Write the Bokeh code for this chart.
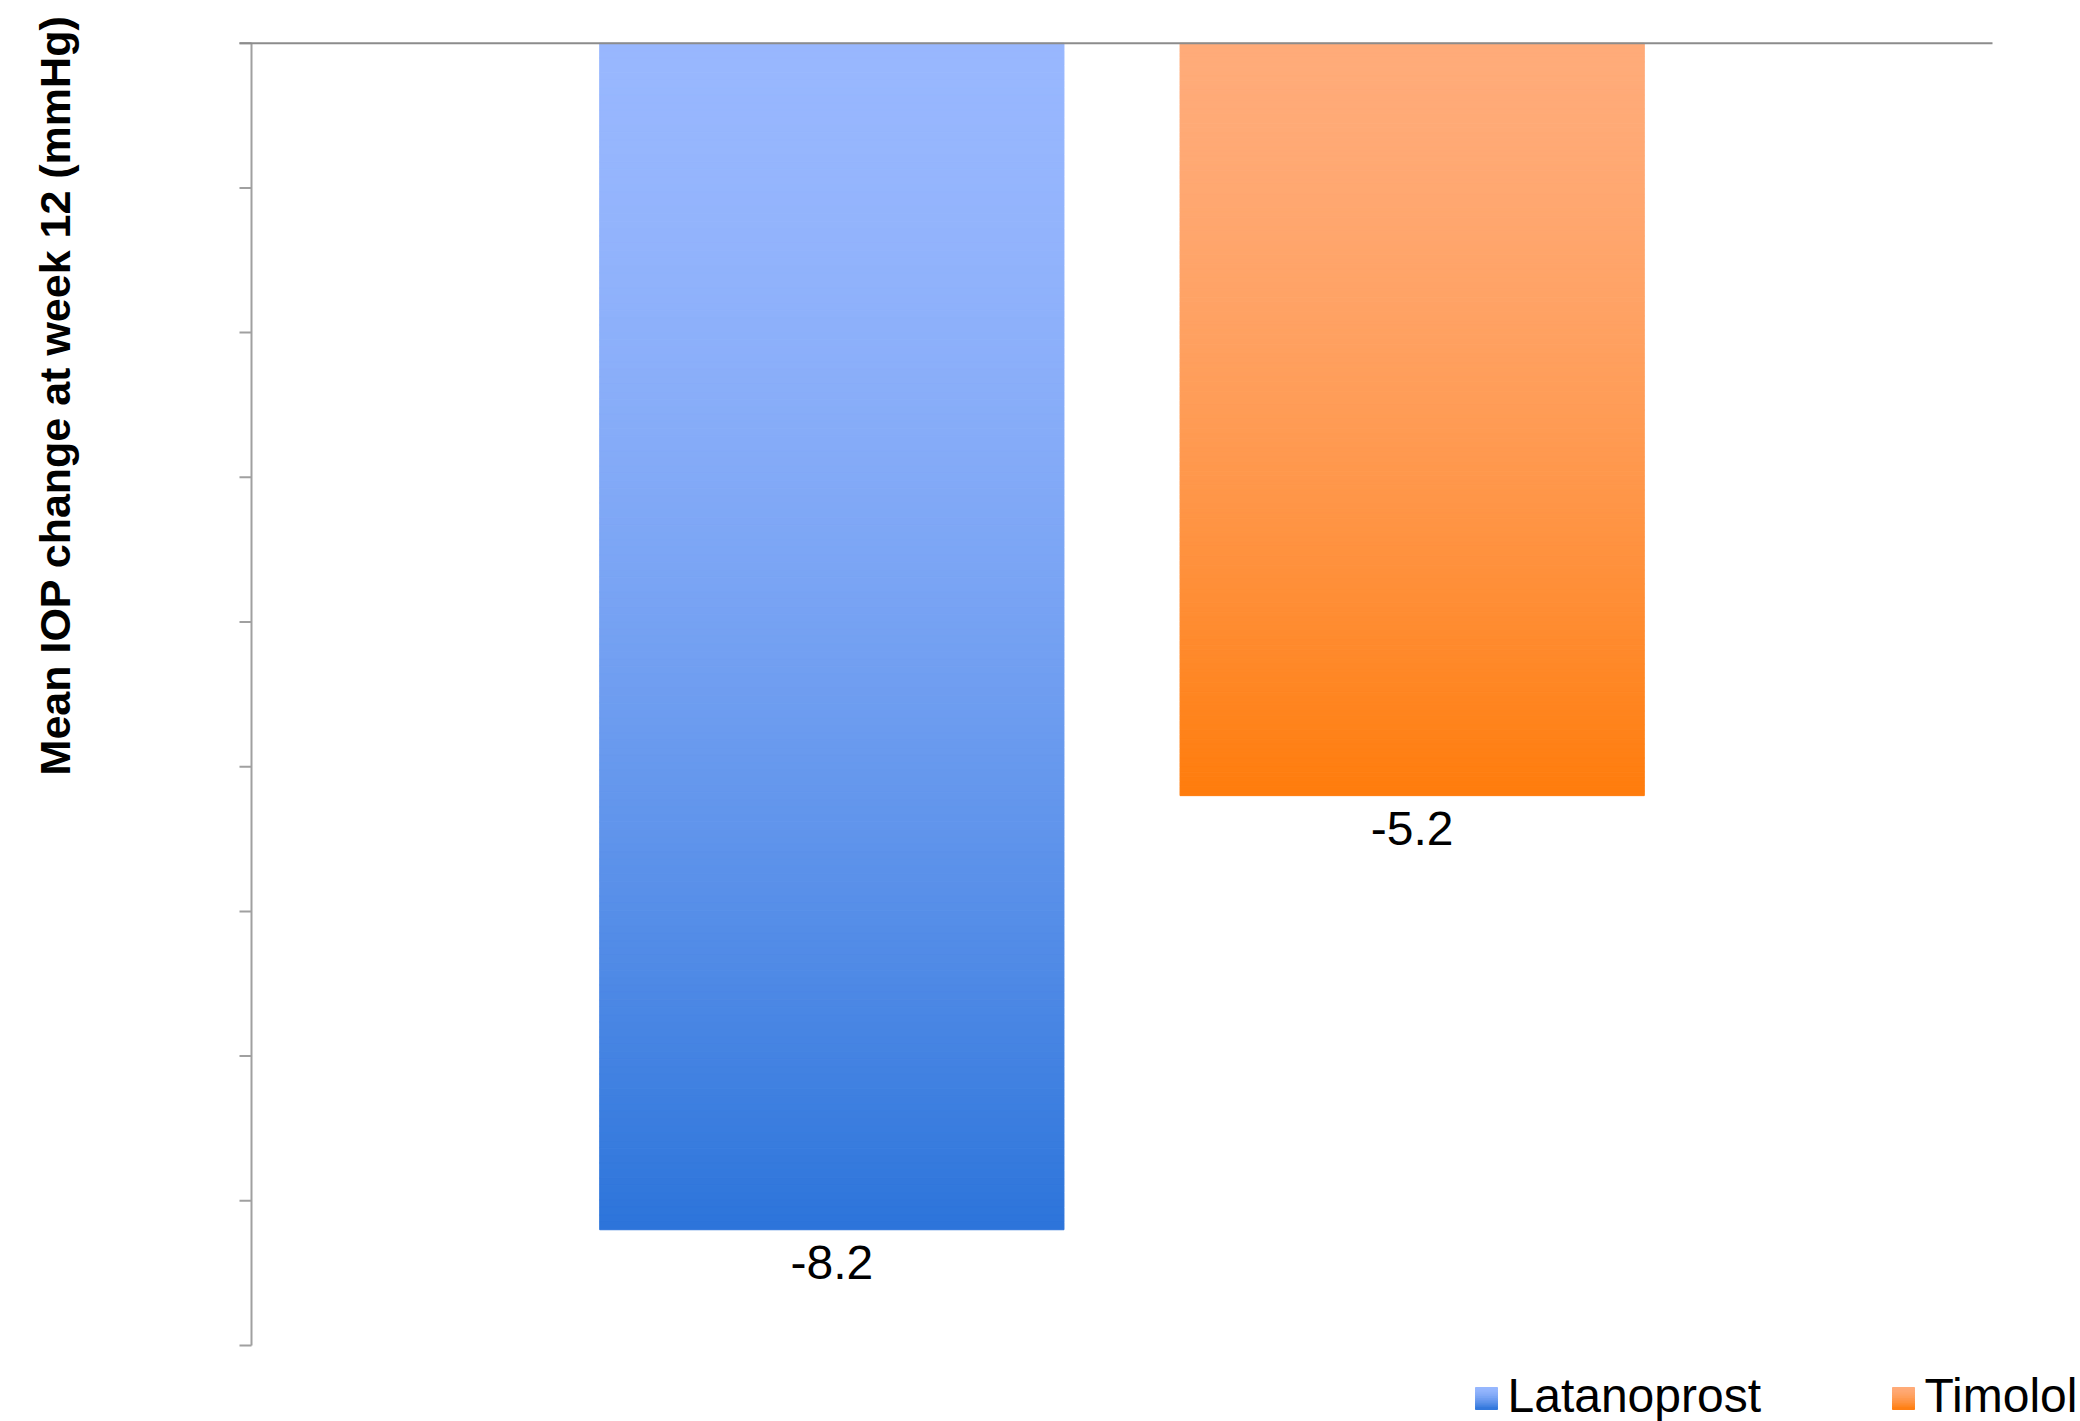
import numpy as np
from bokeh.plotting import figure
from bokeh.models import Range1d, ColumnDataSource
from bokeh.core.properties import value
from bokeh.embed import file_html
from bokeh.resources import INLINE

# ---- data ----
categories = ["Latanoprost", "Timolol"]
values = [-8.2, -5.2]
value_labels = ["-8.2", "-5.2"]
y_ticks = [0, -1, -2, -3, -4, -5, -6, -7, -8, -9]
y_label = "Mean IOP change at week 12 (mmHg)"
top_colors = [(152, 183, 254), (255, 171, 121)]
bottom_colors = [(44, 116, 218), (255, 124, 12)]

FONT = "Liberation Sans"
W, H = 2080, 1421

# layout (pixels) of the plotting area inside the canvas
AX_LEFT, AX_RIGHT, AX_TOP, AX_BOTTOM = 251, 1992, 42.7, 1345
X_MIN, X_MAX = 0.0, 3.0
Y_MIN, Y_MAX = -9.0, 0.0
sx = (AX_RIGHT - AX_LEFT) / (X_MAX - X_MIN)   # px per x unit
sy = (AX_BOTTOM - AX_TOP) / (Y_MAX - Y_MIN)   # px per y unit

def dx(px):
    return X_MIN + (px - AX_LEFT) / sx

def dy(py):
    return Y_MAX - (py - AX_TOP) / sy

p = figure(width=W, height=H, output_backend="svg", toolbar_location=None,
           x_range=Range1d(dx(0), dx(W)), y_range=Range1d(dy(H), dy(0)),
           min_border=0, x_axis_location=None, y_axis_location=None)
p.outline_line_color = None
p.xgrid.visible = False
p.ygrid.visible = False
p.background_fill_color = "white"
p.border_fill_color = "white"

# gradient helper
def gradient_cols(t, b, n, gamma=1.6):
    t = np.array(t, float); b = np.array(b, float)
    f = ((np.arange(n) + 0.5) / n) ** gamma
    return ["#%02x%02x%02x" % tuple(int(round(c)) for c in (t + (b - t) * ff)) for ff in f]

# gradient bars built from stripes
N = 160
for i, (cat, v) in enumerate(zip(categories, values)):
    xc = i + 1
    edges = np.linspace(0, v, N + 1)
    cols = gradient_cols(top_colors[i], bottom_colors[i], N)
    src = ColumnDataSource(dict(left=[xc - 0.4] * N, right=[xc + 0.4] * N,
                                top=edges[:-1], bottom=edges[1:], color=cols))
    p.quad(left="left", right="right", top="top", bottom="bottom", source=src,
           fill_color="color", line_color="color", line_width=1)

# axes: left vertical line with outward ticks, top horizontal line at 0
tick_len = 12 / sx
p.segment(x0=[X_MIN], y0=[Y_MIN], x1=[X_MIN], y1=[Y_MAX], line_color="#a0a0a0", line_width=2)
p.segment(x0=[X_MIN - tick_len] * len(y_ticks), y0=y_ticks, x1=[X_MIN] * len(y_ticks), y1=y_ticks,
          line_color="#a0a0a0", line_width=2)
p.segment(x0=[X_MIN - tick_len], y0=[0], x1=[X_MAX], y1=[0], line_color="#8c8c8c", line_width=2)

# value labels
lab_src = ColumnDataSource(dict(x=[1, 2], y=values, t=value_labels))
p.text(x="x", y="y", text="t", source=lab_src, text_align="center", text_baseline="top",
       y_offset=16, text_font=value(FONT), text_font_size="48px", text_color="black")

# y axis label
p.text(x=[dx(54)], y=[dy(15)], text=[y_label], angle=np.pi / 2, text_align="right",
       text_baseline="middle", text_font=value(FONT), text_font_size="43px",
       text_font_style="bold", text_color="black")

# legend (gradient squares + labels)
leg_x = [1475, 1892]
sq = 22
leg_yc = 1398
M = 12
for i, cat in enumerate(categories):
    cols = gradient_cols(top_colors[i], bottom_colors[i], M)
    ed = np.linspace(leg_yc - sq / 2, leg_yc + sq / 2, M + 1)
    p.quad(left=[dx(leg_x[i])] * M, right=[dx(leg_x[i] + sq)] * M,
           top=[dy(e) for e in ed[:-1]], bottom=[dy(e) for e in ed[1:]],
           fill_color=cols, line_color=cols, line_width=1)
    p.text(x=[dx(leg_x[i] + sq + 10)], y=[dy(leg_yc - 3)], text=[cat], text_align="left",
           text_baseline="middle", text_font=value(FONT), text_font_size="48px",
           text_color="black")

open("out.html", "w").write(file_html(p, INLINE))
